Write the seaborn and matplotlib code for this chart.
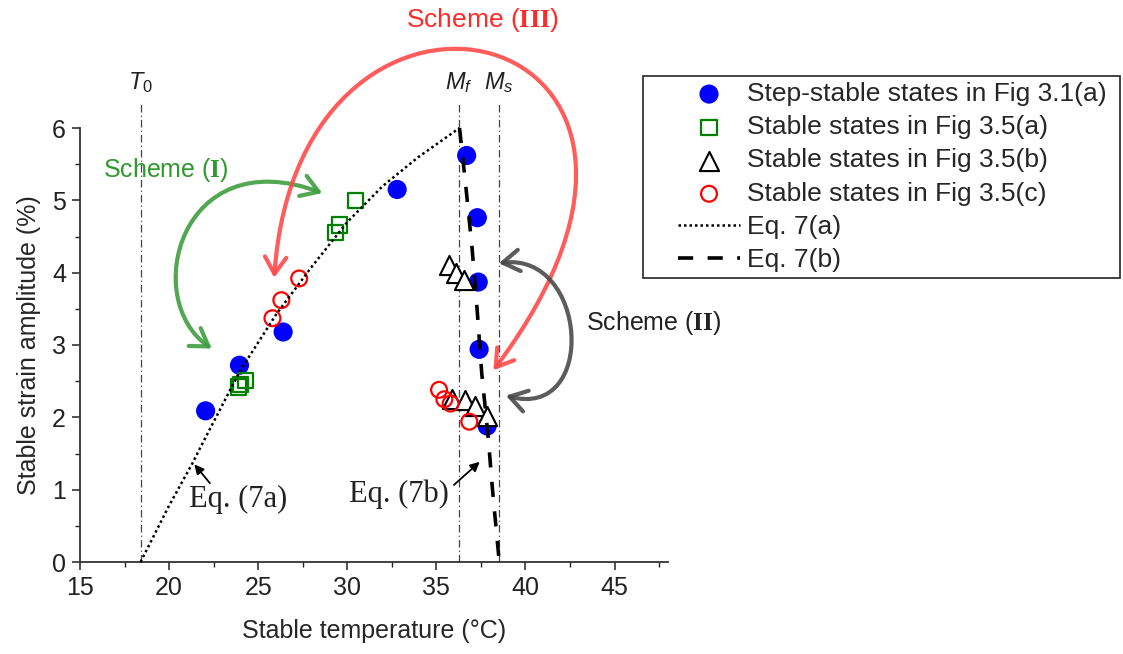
import numpy as np
import matplotlib
matplotlib.use("Agg")
import matplotlib.pyplot as plt
from matplotlib.patches import FancyArrowPatch, Rectangle
from matplotlib.path import Path
from matplotlib.ticker import MultipleLocator
import seaborn as sns

sns.set_theme(style="ticks")
plt.rcParams["font.family"] = ["Liberation Sans", "DejaVu Sans"]
plt.rcParams["mathtext.fontset"] = "custom"
plt.rcParams["mathtext.it"] = "Liberation Sans:italic"
plt.rcParams["mathtext.rm"] = "Liberation Sans"
plt.rcParams["mathtext.bf"] = "Liberation Serif:bold"

# ---------------------------------------------------------------------
# Data
# ---------------------------------------------------------------------
step_T = [22.05, 23.95, 26.4, 32.8, 36.7, 37.3, 37.35, 37.4, 37.85]
step_A = [2.09, 2.72, 3.18, 5.15, 5.62, 4.76, 3.87, 2.94, 1.88]

sa_T = [23.9, 24.0, 24.3, 29.35, 29.55, 30.45]
sa_A = [2.42, 2.45, 2.51, 4.56, 4.66, 5.0]

sb_T = [35.7, 36.1, 36.55, 35.9, 36.6, 37.15, 37.85]
sb_A = [4.1, 4.0, 3.9, 2.26, 2.24, 2.15, 2.02]

sc_T = [25.8, 26.3, 27.3, 35.15, 35.45, 35.8, 36.85]
sc_A = [3.37, 3.62, 3.92, 2.38, 2.25, 2.19, 1.94]

eq7a_T = [18.4, 20.0, 21.3, 22.0, 24.0, 26.0, 28.0, 30.0, 32.0, 34.0, 36.3]
eq7a_A = [0.0, 0.78, 1.36, 1.7, 2.65, 3.42, 4.08, 4.7, 5.2, 5.6, 6.0]

eq7b_T = [36.3, 36.65, 37.0, 37.3, 37.55, 37.9, 38.15, 38.5]
eq7b_A = [6.0, 5.2, 4.35, 3.45, 2.6, 1.75, 1.0, 0.08]

ref_T = [18.4, 36.25, 38.5]
ref_names = [r"$\mathit{T_0}$", r"$\mathit{M_f}$", r"$\mathit{M_s}$"]

labels = [
    "Step-stable states in Fig 3.1(a)",
    "Stable states in Fig 3.5(a)",
    "Stable states in Fig 3.5(b)",
    "Stable states in Fig 3.5(c)",
    "Eq. 7(a)",
    "Eq. 7(b)",
]

# ---------------------------------------------------------------------
# Figure
# ---------------------------------------------------------------------
W, H = 1123, 654
fig = plt.figure(figsize=(W / 100, H / 100), dpi=100)
ax = fig.add_axes([80 / W, 1 - 562 / H, 588 / W, 434 / H])

sns.scatterplot(x=step_T, y=step_A, ax=ax, color="#0000ff", s=190,
                edgecolor="none", label=labels[0], zorder=3, clip_on=False)
sns.scatterplot(x=sa_T, y=sa_A, ax=ax, marker="s", s=120, facecolor="none",
                edgecolor="#008000", linewidth=1.6, label=labels[1], zorder=4)
sns.scatterplot(x=sb_T, y=sb_A, ax=ax, marker="^", s=190, facecolor="white",
                edgecolor="black", linewidth=1.5, label=labels[2], zorder=5)
sns.scatterplot(x=sc_T, y=sc_A, ax=ax, marker="o", s=130, facecolor="none",
                edgecolor="#ff0000", linewidth=1.6, label=labels[3], zorder=6)

sns.lineplot(x=eq7a_T, y=eq7a_A, ax=ax, color="black", lw=1.8,
             linestyle=(0, (1, 1.2)), label=labels[4], sort=False,
             estimator=None, zorder=7, clip_on=False)
sns.lineplot(x=eq7b_T, y=eq7b_A, ax=ax, color="black", lw=2.6,
             linestyle=(0, (4.2, 4.0)), label=labels[5], sort=False,
             estimator=None, zorder=7, clip_on=False)

# reference temperatures
ax.vlines(ref_T, 0, 6.36, colors="#444444", linestyles=[(0, (6, 2.5, 1, 2.5))],
          lw=0.9, clip_on=False, zorder=1)
for t, name in zip(ref_T, ref_names):
    ax.text(t, 6.45, name, ha="center", va="bottom", fontsize=17, color="#222222")

ax.set_xlim(15, 48)
ax.set_ylim(0, 6)
ax.xaxis.set_major_locator(MultipleLocator(5))
ax.xaxis.set_minor_locator(MultipleLocator(2.5))
ax.yaxis.set_major_locator(MultipleLocator(1))
ax.yaxis.set_minor_locator(MultipleLocator(0.5))
ax.tick_params(which="major", direction="out", length=6, width=1.1,
               labelsize=18, colors="#222222", pad=4)
ax.tick_params(which="minor", direction="out", length=3.5, width=1.0,
               colors="#222222")
sns.despine(ax=ax)
for side in ["left", "bottom"]:
    ax.spines[side].set_linewidth(1.3)
    ax.spines[side].set_color("#333333")

ax.set_xlabel("Stable temperature (\u00b0C)", fontsize=18, labelpad=14)
ax.set_ylabel("Stable strain amplitude (%)", fontsize=18, labelpad=8)

# ---------------------------------------------------------------------
# Scheme arrows
# ---------------------------------------------------------------------
codes = [Path.MOVETO, Path.CURVE4, Path.CURVE4, Path.CURVE4]
schemes = [
    ([(22.4, 2.95), (18.36, 3.62), (20.6, 5.83), (28.6, 5.1)], "#3f9f3f"),
    ([(25.9, 3.93), (27.3, 9.0), (53.0, 7.5), (38.2, 2.65)], "#ff4a4a"),
    ([(38.5, 4.13), (43.5, 4.3), (44.1, 1.95), (38.9, 2.3)], "#4a4a4a"),
]
for verts, col in schemes:
    arr = FancyArrowPatch(path=Path(verts, codes),
                          arrowstyle="<->,head_length=0.55,head_width=0.35",
                          mutation_scale=22, lw=3, color=col, alpha=0.9,
                          clip_on=False, zorder=2)
    ax.add_patch(arr)

ax.text(19.8, 5.42, r"Scheme ($\mathbf{I}$)", color="#2e9a2e", fontsize=18,
        ha="center", va="center")
ax.text(37.6, 7.5, r"Scheme ($\mathbf{III}$)", color="#ff2a2a", fontsize=19,
        ha="center", va="center")
ax.text(43.4, 3.3, r"Scheme ($\mathbf{II}$)", color="#222222", fontsize=18,
        ha="left", va="center")

# equation pointers
ax.annotate("", xy=(21.32, 1.38), xytext=(22.39, 1.06),
            arrowprops=dict(arrowstyle="-|>", color="black", lw=1.3,
                            mutation_scale=14))
ax.text(23.9, 0.87, "Eq. (7a)", family=["Liberation Serif"], fontsize=22,
        ha="center", va="center", color="#222222")
ax.annotate("", xy=(37.55, 1.41), xytext=(35.87, 1.04),
            arrowprops=dict(arrowstyle="-|>", color="black", lw=1.3,
                            mutation_scale=14))
ax.text(32.88, 0.94, "Eq. (7b)", family=["Liberation Serif"], fontsize=22,
        ha="center", va="center", color="#222222")

# ---------------------------------------------------------------------
# Legend (outside, framed box)
# ---------------------------------------------------------------------
handles, labs = ax.get_legend_handles_labels()
if ax.get_legend() is not None:
    ax.get_legend().remove()
lookup = dict(zip(labs, handles))
fig.legend([lookup[l] for l in labels], labels, loc="upper left",
           bbox_to_anchor=(678 / W, 1 - 82 / H), frameon=False, fontsize=19,
           borderpad=0, borderaxespad=0, handlelength=2.35, handletextpad=0.27,
           labelspacing=0.35)
fig.add_artist(Rectangle((643 / W, 1 - 278 / H), 477 / W, 202 / H,
                         transform=fig.transFigure, fill=False,
                         edgecolor="#222222", lw=1.2))

fig.savefig("out.png", dpi=100)
